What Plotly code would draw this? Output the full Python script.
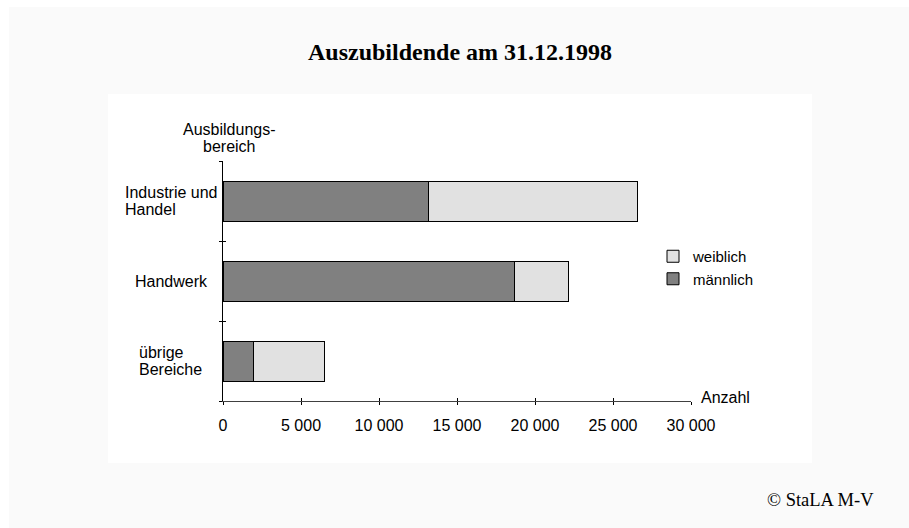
import plotly.graph_objects as go

# Ausbildungsbereiche (top to bottom) and trainee counts as of 31.12.1998
bereiche = ["Industrie und<br>Handel", "Handwerk", "übrige<br>Bereiche"]
maennlich = [13175, 18700, 1950]
weiblich = [13415, 3465, 4555]

x_ticks = [0, 5000, 10000, 15000, 20000, 25000, 30000]
x_ticktext = ["0", "5 000", "10 000", "15 000", "20 000", "25 000", "30 000"]

W, H = 909, 528
L, R, T, B = 223, 218, 161, 127
PW, PH = W - L - R, H - T - B


def px_x(v):
    return (v - L) / PW


def px_y(v):
    return (H - B - v) / PH


# Arial advance widths (1/1000 em) for laying out left-aligned label blocks
ARIAL = {
    " ": 278, "I": 278, "H": 722, "B": 667, "a": 556, "b": 556, "c": 500,
    "d": 556, "e": 556, "g": 556, "h": 556, "i": 222, "k": 500, "l": 222,
    "n": 556, "r": 333, "s": 500, "t": 278, "u": 556, "w": 722, "ü": 556,
}


def text_width(s, size):
    return sum(ARIAL.get(ch, 556) for ch in s) * size / 1000


DARK = "#808080"
LIGHT = "#e1e1e1"
FONT = "Liberation Sans, Arial, sans-serif"
SERIF = "Liberation Serif, Times New Roman, serif"
FS = 16
LINE_GAP = 17  # line spacing of the two-line labels, in px
LABEL_CENTER = 169

n = len(bereiche)
pos = list(range(n))
boundaries = [i - 0.5 for i in range(n + 1)]

fig = go.Figure()
fig.add_trace(go.Bar(
    y=pos, x=maennlich, orientation="h", name="männlich",
    marker=dict(color=DARK, line=dict(color="#000000", width=1)),
    width=0.5, hoverinfo="x",
))
fig.add_trace(go.Bar(
    y=pos, x=weiblich, orientation="h", name="weiblich",
    marker=dict(color=LIGHT, line=dict(color="#000000", width=1)),
    width=0.5, hoverinfo="x",
))
# invisible helper trace on a second, coincident subplot carrying the inner tick halves
fig.add_trace(go.Scatter(
    x=maennlich, y=pos, xaxis="x2", yaxis="y2",
    showlegend=False, hoverinfo="skip", mode="markers",
    marker=dict(opacity=0),
))

fig.update_layout(
    width=W, height=H,
    margin=dict(l=L, r=R, t=T, b=B),
    paper_bgcolor="#ffffff",
    plot_bgcolor="rgba(0,0,0,0)",
    barmode="stack",
    font=dict(family=FONT, size=FS, color="#000000"),
    showlegend=True,
    legend=dict(
        traceorder="reversed",
        x=px_x(693 - 40), xanchor="left",
        y=px_y(240), yanchor="top",
        bgcolor="rgba(0,0,0,0)",
        font=dict(family=FONT, size=15),
        itemwidth=30,
        tracegroupgap=0,
    ),
    xaxis=dict(
        domain=[0, 1], anchor="y",
        range=[0, 30000], tickvals=x_ticks, ticktext=x_ticktext,
        showgrid=False, zeroline=False,
        showline=True, linecolor="#404040", linewidth=1,
        ticks="outside", ticklen=3, tickcolor="#000000",
        tickfont=dict(family=FONT, size=FS),
        ticklabelstandoff=7,
        fixedrange=True,
    ),
    yaxis=dict(
        domain=[0, 1], anchor="x",
        range=[n - 0.5, -0.5],
        tickvals=boundaries, showticklabels=False,
        showgrid=False, zeroline=False,
        showline=True, linecolor="#000000", linewidth=1,
        ticks="outside", ticklen=3, tickcolor="#000000",
        fixedrange=True,
    ),
    xaxis2=dict(
        domain=[0, 1], anchor="y2",
        range=[0, 30000], tickvals=x_ticks,
        showticklabels=False, showgrid=False, zeroline=False, showline=False,
        ticks="inside", ticklen=3, tickcolor="#000000",
        fixedrange=True,
    ),
    yaxis2=dict(
        domain=[0, 1], anchor="x2",
        range=[n - 0.5, -0.5], tickvals=boundaries,
        showticklabels=False, showgrid=False, zeroline=False, showline=False,
        ticks="inside", ticklen=3, tickcolor="#000000",
        fixedrange=True,
    ),
)

# category labels: each block left-aligned, blocks centred on a common column
for i, name in enumerate(bereiche):
    lines = name.split("<br>")
    left = LABEL_CENTER - max(text_width(s, FS) for s in lines) / 2
    for k, line in enumerate(lines):
        offset = (k - (len(lines) - 1) / 2) * LINE_GAP
        fig.add_annotation(
            x=px_x(left), xref="paper", xanchor="left",
            y=pos[i], yref="y", yanchor="middle", yshift=-offset,
            text=line, showarrow=False,
            font=dict(family=FONT, size=FS),
        )

# background panels
fig.add_shape(type="rect", xref="paper", yref="paper", layer="below",
              x0=px_x(9), x1=px_x(W), y0=px_y(H), y1=px_y(7),
              fillcolor="#fafafa", line=dict(width=0))
fig.add_shape(type="rect", xref="paper", yref="paper", layer="below",
              x0=px_x(108), x1=px_x(812), y0=px_y(463), y1=px_y(94),
              fillcolor="#ffffff", line=dict(width=0))

# title
fig.add_annotation(
    x=px_x(460), xref="paper", xanchor="center",
    y=px_y(52), yref="paper", yanchor="middle",
    text="<b>Auszubildende am 31.12.1998</b>", showarrow=False,
    font=dict(family=SERIF, size=24),
)
# y axis title, two centred lines
for k, line in enumerate(["Ausbildungs-", "bereich"]):
    fig.add_annotation(
        x=px_x(229), xref="paper", xanchor="center",
        y=px_y(129 + k * LINE_GAP), yref="paper", yanchor="middle",
        text=line, showarrow=False,
        font=dict(family=FONT, size=FS),
    )
fig.add_annotation(
    x=px_x(699), xref="paper", xanchor="left",
    y=px_y(397), yref="paper", yanchor="middle",
    text="Anzahl", showarrow=False,
    font=dict(family=FONT, size=FS),
)
# source note
fig.add_annotation(
    x=px_x(876), xref="paper", xanchor="right",
    y=px_y(500), yref="paper", yanchor="middle",
    text="© StaLA M-V", showarrow=False,
    font=dict(family=SERIF, size=18.5),
)

fig.write_html("out.html")
